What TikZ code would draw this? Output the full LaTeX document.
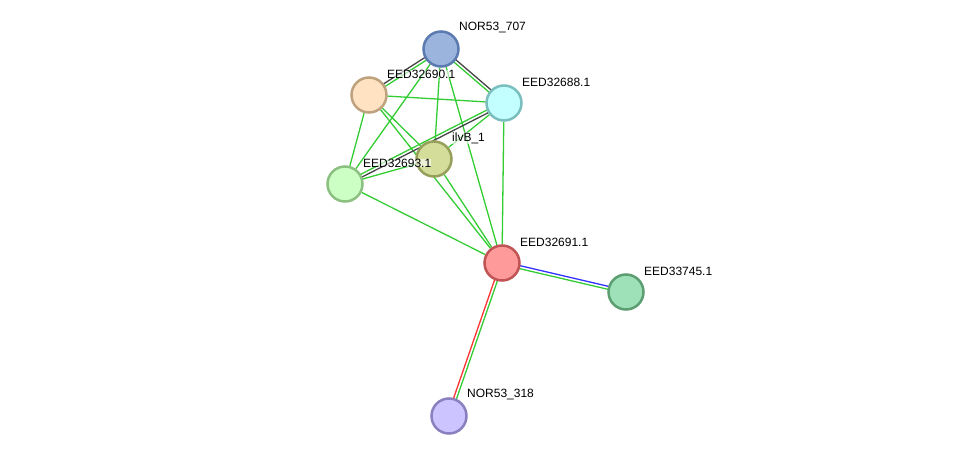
\documentclass[tikz,border=0pt]{standalone}
\usepackage{fontspec}
\setmainfont{Liberation Sans}
\usepackage{tikz}
\usepackage{xcolor}
\usetikzlibrary{calc,backgrounds}

\definecolor{egreen}{HTML}{33CC33}
\definecolor{egray}{HTML}{444444}
\definecolor{eblue}{HTML}{3333FF}
\definecolor{ered}{HTML}{FF3333}

% two coloured lines side by side between two nodes
\newcommand{\twoedge}[4]{%
  \draw[edge,#3] ($(#1)!1.5pt!90:(#2)$) -- ($(#2)!1.5pt!-90:(#1)$);
  \draw[edge,#4] ($(#1)!1.5pt!-90:(#2)$) -- ($(#2)!1.5pt!90:(#1)$);}

\begin{document}
\begin{tikzpicture}[x=1pt,y=-1pt,
    prot/.style={circle,minimum size=35pt,inner sep=0pt,line width=2.5pt},
    lbl/.style={anchor=west,font=\fontsize{12}{12}\selectfont,inner sep=0pt,
      fill=white,fill opacity=0.6,text opacity=1},
    edge/.style={line width=1.3pt}]
  \useasboundingbox (0,0) rectangle (975,462);

  \node[prot,draw={rgb,255:red,91;green,122;blue,176},fill={rgb,255:red,154;green,180;blue,222}] (nor707) at (441,49) {};
  \node[prot,draw={rgb,255:red,190;green,162;blue,126},fill={rgb,255:red,255;green,226;blue,194}] (e690) at (369,95) {};
  \node[prot,draw={rgb,255:red,122;green,190;blue,190},fill={rgb,255:red,196;green,255;blue,255}] (e688) at (504,103) {};
  \node[prot,draw={rgb,255:red,150;green,160;blue,90},fill={rgb,255:red,212;green,222;blue,154}] (ilvb) at (434,159) {};
  \node[prot,draw={rgb,255:red,140;green,192;blue,128},fill={rgb,255:red,204;green,255;blue,196}] (e693) at (345,184) {};
  \node[prot,draw={rgb,255:red,192;green,84;blue,84},fill={rgb,255:red,255;green,154;blue,154}] (e691) at (502,263) {};
  \node[prot,draw={rgb,255:red,92;green,158;blue,114},fill={rgb,255:red,158;green,224;blue,184}] (e745) at (626,292) {};
  \node[prot,draw={rgb,255:red,138;green,128;blue,192},fill={rgb,255:red,204;green,196;blue,255}] (nor318) at (449,416) {};

  \begin{scope}[on background layer]
    \twoedge{nor707}{e690}{egreen}{egray}
    \twoedge{nor707}{e688}{egray}{egreen}
    \draw[edge,egreen] (nor707) -- (e693);
    \draw[edge,egreen] (nor707) -- (ilvb);
    \draw[edge,egreen] (nor707) -- (e691);
    \draw[edge,egreen] (e690) -- (e688);
    \draw[edge,egreen] (e690) -- (e693);
    \draw[edge,egreen] (e690) -- (ilvb);
    \draw[edge,egreen] (e690) -- (e691);
    \draw[edge,egreen] (e688) -- (ilvb);
    \twoedge{e688}{e693}{egray}{egreen}
    \draw[edge,egreen] (e688) -- (e691);
    \draw[edge,egreen] (ilvb) -- (e693);
    \draw[edge,egreen] (ilvb) -- (e691);
    \draw[edge,egreen] (e693) -- (e691);
    \twoedge{e691}{e745}{eblue}{egreen}
    \twoedge{e691}{nor318}{egreen}{ered}
  \end{scope}

  \node[lbl] (l707) at ($(nor707)+(18,-21)$) {NOR53\_707};
  \node[lbl] (l690) at ($(e690)+(18,-21)$) {EED32690.1};
  \node[lbl] (l688) at ($(e688)+(18,-21)$) {EED32688.1};
  \node[lbl] (lilv) at ($(ilvb)+(18,-21)$) {ilvB\_1};
  \node[lbl] (l693) at ($(e693)+(18,-21)$) {EED32693.1};
  \node[lbl] (l691) at ($(e691)+(18,-21)$) {EED32691.1};
  \node[lbl] (l745) at ($(e745)+(18,-21)$) {EED33745.1};
  \node[lbl] (l318) at ($(nor318)+(18,-21)$) {NOR53\_318};
\end{tikzpicture}
\end{document}
